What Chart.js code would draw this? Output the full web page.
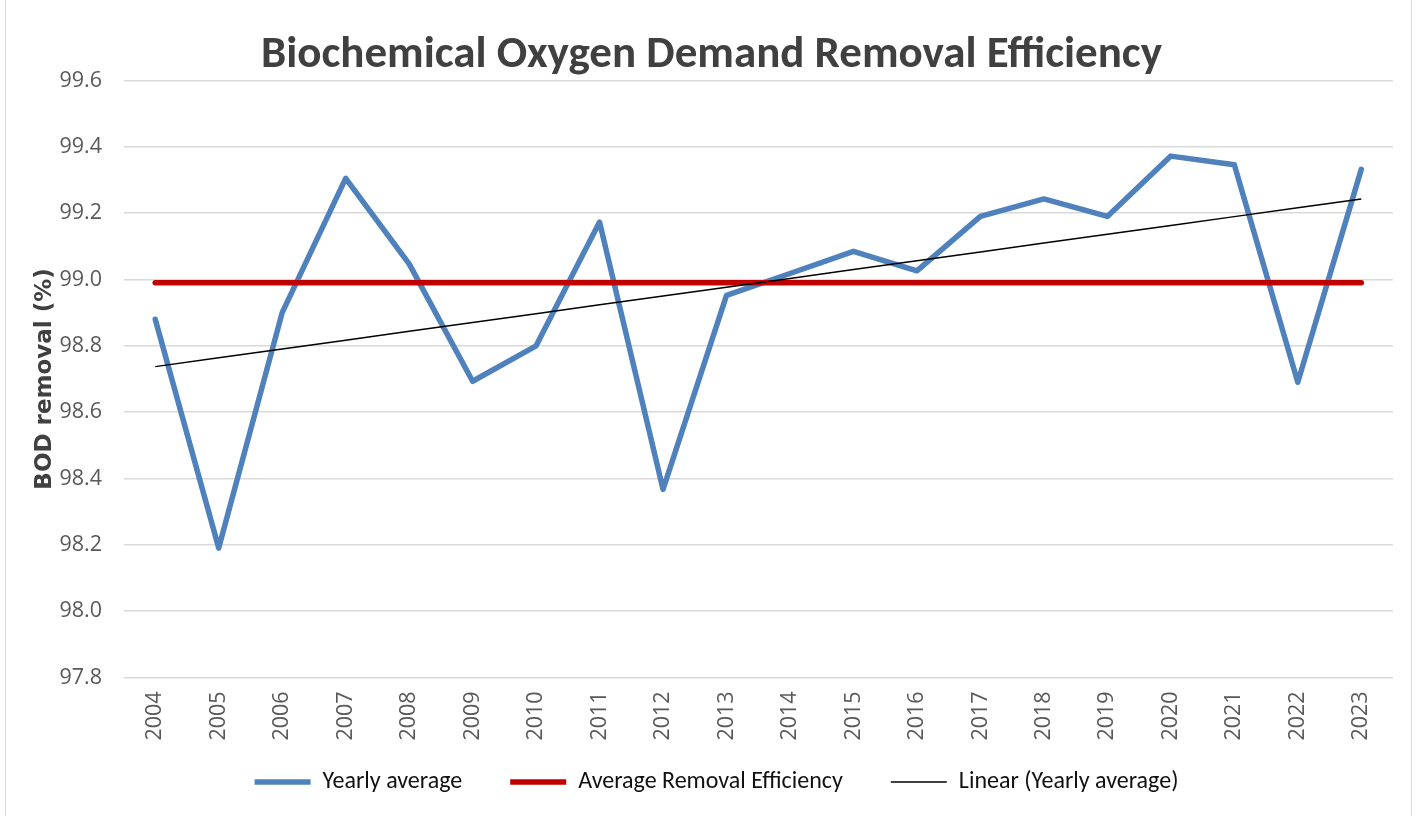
<!DOCTYPE html>
<html>
<head>
<meta charset="utf-8">
<script src="https://cdn.jsdelivr.net/npm/chart.js@4.4.1/dist/chart.umd.min.js"></script>
<style>
    html, body { margin: 0; padding: 0; background: #ffffff; }
    #wrap { position: relative; width: 1421px; height: 816px; overflow: hidden; }
    #frame { position: absolute; left: 5px; top: -2px; width: 1407px; height: 830px; border: 1px solid #d9d9d9; box-sizing: border-box; }
    canvas { position: absolute; left: 0; top: 0; }
</style>
</head>
<body>
<div id="wrap">
    <div id="frame"></div>
    <canvas id="bodChart" width="1421" height="816"></canvas>
</div>
<script>
// values
const years = ["2004", "2005", "2006", "2007", "2008", "2009", "2010", "2011", "2012", "2013",
               "2014", "2015", "2016", "2017", "2018", "2019", "2020", "2021", "2022", "2023"];
const yearlyAverage = [98.88, 98.19, 98.90, 99.305, 99.047, 98.693, 98.80, 99.173, 98.367, 98.952,
                       99.018, 99.085, 99.026, 99.19, 99.243, 99.19, 99.372, 99.346, 98.69, 99.332];
const averageRemoval = 98.99;
const yTicks = [97.8, 98.0, 98.2, 98.4, 98.6, 98.8, 99.0, 99.2, 99.4, 99.6];

// Excel style linear trendline: least squares over the yearly values
function linearTrend(values) {
    const n = values.length;
    let sx = 0, sy = 0, sxy = 0, sxx = 0;
    values.forEach((v, i) => { sx += i; sy += v; sxy += i * v; sxx += i * i; });
    const slope = (n * sxy - sx * sy) / (n * sxx - sx * sx);
    const icpt = (sy - slope * sx) / n;
    return values.map((v, i) => icpt + slope * i);
}

const TITLE_FONT = "Calibri, Carlito, Lato, sans-serif";
const AXIS_FONT = "'Open Sans', 'Noto Sans', sans-serif";

// legend spacing is wider than the room under the rotated year labels,
// so nudge the legend (and title) boxes after layout
const nudgeBoxes = {
    id: "nudgeBoxes",
    afterLayout(chart) {
        const lg = chart.legend;
        const dy = lg.top - 722;
        lg.top -= dy;
        lg.bottom -= dy;
        lg.left += 10;
        lg.right += 10;
        const tb = chart.titleBlock;
        tb.left += 5;
        tb.right += 5;
    },
};

new Chart(document.getElementById("bodChart"), {
    type: "line",
    data: {
        labels: years,
        datasets: [
            {
                label: "Yearly average",
                data: yearlyAverage,
                borderColor: "#4f81bd",
                backgroundColor: "#4f81bd",
                borderWidth: 5.5,
                pointRadius: 0,
                borderJoinStyle: "round",
                borderCapStyle: "round",
                tension: 0,
                order: 3,
            },
            {
                label: "Average Removal Efficiency",
                data: years.map(() => averageRemoval),
                borderColor: "#c00000",
                backgroundColor: "#c00000",
                borderWidth: 5.5,
                pointRadius: 0,
                borderCapStyle: "round",
                order: 2,
            },
            {
                label: "Linear (Yearly average)",
                data: linearTrend(yearlyAverage),
                borderColor: "#000000",
                backgroundColor: "#000000",
                borderWidth: 1.5,
                pointRadius: 0,
                order: 1,
            },
        ],
    },
    plugins: [nudgeBoxes],
    options: {
        responsive: false,
        animation: false,
        layout: { padding: { left: 20, right: 28, top: 0, bottom: -6.4 } },
        plugins: {
            title: {
                display: true,
                text: "Biochemical Oxygen Demand Removal Efficiency",
                color: "#404040",
                font: { family: TITLE_FONT, size: 45, weight: "bold", lineHeight: 1.1 },
                padding: { top: 31, bottom: 0 },
            },
            legend: {
                position: "bottom",
                labels: {
                    usePointStyle: true,
                    pointStyle: "line",
                    pointStyleWidth: 56,
                    color: "#111111",
                    font: { family: TITLE_FONT, size: 24 },
                    padding: 48,
                    sort: (a, b) => a.datasetIndex - b.datasetIndex,
                },
            },
            tooltip: { enabled: false },
        },
        scales: {
            x: {
                offset: true,
                grid: { display: false, drawTicks: false },
                border: { display: false },
                ticks: {
                    color: "#595959",
                    font: { family: AXIS_FONT, size: 21.5 },
                    minRotation: 90,
                    maxRotation: 90,
                    padding: 14,
                },
                afterFit: (s) => { s.height = 63; },
            },
            y: {
                min: 97.8,
                max: 99.6,
                afterBuildTicks: (s) => { s.ticks = yTicks.map((v) => ({ value: v })); },
                grid: { color: "#d9d9d9", lineWidth: 1.5, drawTicks: false },
                border: { display: false },
                ticks: {
                    color: "#595959",
                    font: { family: AXIS_FONT, size: 21.5 },
                    padding: 21.5,
                    callback: (v) => Number(v).toFixed(1),
                },
                title: {
                    display: true,
                    text: "BOD removal (%)",
                    color: "#404040",
                    font: { family: "'DejaVu Sans', sans-serif", size: 23, weight: "bold" },
                    padding: { top: 11, bottom: 0 },
                },
                afterFit: (s) => { s.width = 103.5; },
            },
        },
    },
});
</script>
</body>
</html>
